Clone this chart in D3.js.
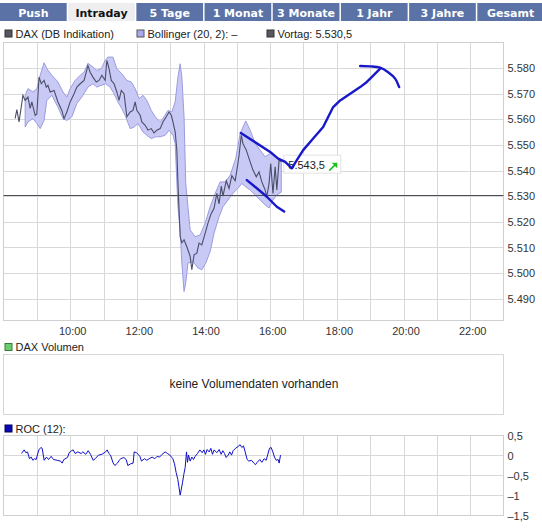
<!DOCTYPE html>
<html><head><meta charset="utf-8">
<script src="https://cdn.jsdelivr.net/npm/d3@7"></script>
<style>
body{margin:0;background:#fff}
svg{display:block}
text{font-family:"Liberation Sans",Arial,sans-serif}
</style>
</head><body>
<svg id="c" width="542" height="528"></svg>
<script>
// ---------- data ----------
const tabs = ["Push","Intraday","5 Tage","1 Monat","3 Monate","1 Jahr","3 Jahre","Gesamt"];
const activeTab = "Intraday";
const seriesName = "DAX (DB Indikation)";
const bollingerName = "Bollinger (20, 2):  \u2013";
const vortagName = "Vortag";
const vortag = 5530.5;
const volumeName = "DAX Volumen";
const volumeMessage = "keine Volumendaten vorhanden";
const rocName = "ROC (12):";

const hourTicks = [10,12,14,16,18,20,22];
const priceTicks = [5490,5500,5510,5520,5530,5540,5550,5560,5570,5580];
const rocTicks = [0.5,0,-0.5,-1,-1.5];

const priceTimes = ["08:21","08:24","08:28","08:35","08:39","08:44","08:48","08:51","08:57","09:00",
"09:04","09:08","09:13","09:17","09:20","09:24","09:31","09:38","09:45","09:49",
"09:54","10:00","10:07","10:12","10:18","10:25","10:32","10:36","10:41","10:47",
"10:52","10:57","11:03","11:06","11:10","11:14","11:19","11:24","11:28","11:32",
"11:37","11:42","11:48","11:53","11:57","12:00","12:06","12:09","12:15","12:20",
"12:26","12:31","12:36","12:42","12:47","12:53","12:58","13:02","13:05","13:09",
"13:12","13:14","13:18","13:21","13:25","13:30","13:36","13:39","13:43","13:48",
"13:52","13:57","14:03","14:08","14:14","14:19","14:24","14:28","14:32","14:35",
"14:41","14:46","14:51","14:57","15:00","15:04","15:08","15:11","15:17","15:24",
"15:29","15:35","15:40","15:45","15:51","15:54","15:58","16:01","16:05","16:09",
"16:12","16:16","16:20"];
const priceValues = [5560.4,5563.8,5559,5569.4,5567.4,5568.7,5564.3,5566.8,5561.6,5562,
5576.5,5573.9,5575.2,5572.6,5573.3,5570.7,5571.3,5566.8,5563.5,5560.3,
5562.9,5566.8,5570,5572.6,5573.9,5575.2,5581,5578.4,5576.5,5574.6,
5575.2,5577.2,5575.2,5583,5579.8,5575.2,5573.9,5570.7,5567.4,5571.3,
5570,5561,5562.9,5563.5,5566.8,5563.5,5561.6,5559,5557.7,5555.8,
5556.4,5554.7,5555.8,5556.4,5559,5561,5562.9,5561.6,5559,5555.1,
5548,5535.1,5514.2,5511.8,5513,5510.3,5506.5,5501.3,5507.1,5507.8,
5511.7,5511,5515.6,5519.5,5523.3,5525.3,5531.1,5527,5534,5530,
5536,5533,5538,5536,5540,5546,5553.8,5550.6,5548,5543.4,
5540.2,5537.6,5539.5,5535.6,5532.4,5529.8,5535,5542.8,5531.1,5541.5,
5532.4,5544,5543.5];

const upperTimes = ["08:39","08:44","08:53","09:00","09:06","09:13","09:18","09:27","09:38","09:47",
"09:54","10:00","10:09","10:18","10:25","10:32","10:41","10:48","10:56","11:03",
"11:08","11:17","11:24","11:33","11:42","11:50","11:57","12:04","12:11","12:18",
"12:26","12:33","12:42","12:49","12:56","13:03","13:09","13:14","13:18","13:21",
"13:25","13:28","13:36","13:45","13:54","14:03","14:12","14:21","14:30","14:39",
"14:48","14:58","15:06","15:16","15:24","15:33","15:42","15:51","16:00","16:09","16:20"];
const upperValues = [5569.4,5572,5570.7,5572,5577.2,5582.1,5579.8,5577.2,5574.6,5570.7,
5568.7,5572,5575.2,5577.2,5578.4,5581.9,5580.4,5579.1,5579.8,5583,
5584.3,5584.3,5579.8,5577.8,5575.2,5574.6,5572,5568.1,5569.4,5567.4,
5563.5,5561,5559,5561,5563.5,5562.9,5566.8,5576.5,5581.7,5576.5,
5561,5535,5516.8,5514.2,5514.9,5519.5,5525.9,5531.1,5535.6,5535.6,
5538.2,5544.7,5554.5,5559.4,5555.8,5550.6,5548,5545.4,5546.7,5545.4,5544];

const lowerTimes = ["08:39","08:44","08:53","09:00","09:06","09:13","09:18","09:27","09:38","09:47",
"09:54","10:03","10:12","10:21","10:32","10:41","10:48","10:56","11:04","11:12",
"11:19","11:26","11:33","11:40","11:48","11:55","12:02","12:11","12:18","12:26",
"12:34","12:42","12:51","12:58","13:05","13:09","13:14","13:18","13:21","13:25",
"13:28","13:32","13:41","13:50","13:57","14:04","14:12","14:19","14:28","14:35",
"14:44","14:53","15:02","15:09","15:16","15:24","15:33","15:42","15:51","15:58",
"16:05","16:12","16:20"];
const lowerValues = [5557,5559,5560.3,5558.4,5556.4,5559.6,5567.4,5569.4,5564.8,5560.3,
5559.6,5561,5566.2,5568.7,5572.6,5573.9,5572.6,5573.3,5573.9,5572.6,
5570,5566.8,5564.2,5561,5556.4,5557,5558.4,5555.1,5553.8,5552.5,
5553.2,5553.2,5553.8,5555.8,5553.8,5550.6,5525.9,5516.8,5503.9,5492.8,
5496.1,5503.9,5504.5,5502,5501.3,5503.9,5508.4,5515.6,5522,5525.9,
5528.5,5531.1,5533.1,5535,5533.7,5532.4,5530.5,5528.5,5526.6,5525.4,
5528.5,5530.5,5531.6];

const rocHours = [8.54,8.62,8.67,8.72,8.78,8.83,8.88,8.93,8.98,9.06,
9.12,9.16,9.22,9.29,9.35,9.43,9.50,9.61,9.71,9.76,
9.81,9.92,9.97,10.04,10.09,10.15,10.23,10.33,10.38,10.47,
10.54,10.61,10.69,10.75,10.85,10.95,11.06,11.11,11.16,11.21,
11.29,11.34,11.42,11.47,11.52,11.61,11.68,11.73,11.81,11.89,
11.92,11.99,12.04,12.09,12.14,12.23,12.30,12.37,12.46,12.54,
12.61,12.68,12.76,12.85,12.92,12.99,13.08,13.13,13.18,13.23,
13.26,13.30,13.33,13.37,13.41,13.45,13.49,13.52,13.55,13.60,
13.65,13.70,13.75,13.82,13.89,13.96,14.01,14.06,14.11,14.17,
14.22,14.27,14.32,14.40,14.47,14.53,14.58,14.63,14.68,14.74,
14.79,14.84,14.89,14.96,15.03,15.10,15.15,15.20,15.25,15.31,
15.36,15.44,15.51,15.56,15.61,15.69,15.75,15.82,15.88,15.93,
15.98,16.03,16.08,16.13,16.18,16.24,16.27,16.31];
const rocValues = [0.05,0.14,0.07,0.09,-0.08,-0.04,-0.12,-0.08,-0.1,0.14,
0.2,0.18,-0.12,-0.04,-0.1,-0.02,-0.1,-0.12,-0.14,-0.19,
-0.1,-0.05,0.07,0.12,0.14,0.05,0.09,0.05,0.09,0.03,
0.12,0.03,-0.12,-0.08,0.01,0.03,0.09,0.14,0.05,0.01,
-0.19,-0.25,-0.19,-0.12,-0.08,-0.05,-0.1,-0.25,-0.21,-0.19,
0.09,0.07,0.03,-0.02,-0.14,-0.08,-0.12,-0.08,-0.04,-0.08,
-0.02,-0.04,0.03,0.09,0.05,0.01,-0.08,-0.21,-0.43,-0.6,
-0.77,-0.99,-0.86,-0.68,-0.47,-0.3,0.09,-0.17,0.01,-0.14,
-0.04,-0.1,-0.02,0.05,0.14,0.07,0.14,0.03,0.15,0.09,
0.18,0.03,0.14,0.07,0.15,0.03,0.12,0.05,-0.05,0.01,
0.09,0.01,0.12,0.18,0.22,0.27,0.2,0.24,0.09,-0.1,
-0.14,-0.12,-0.19,-0.23,-0.17,-0.1,-0.17,-0.08,-0.12,0.03,
0.18,0.2,0.09,-0.04,-0.12,-0.1,-0.19,0.01];

// hand-drawn annotation strokes (hours, index points)
const strokeAHours = [15.12,16.0,16.24,16.45,16.65,16.80,16.99,17.29,17.59,17.89,18.10,18.40,18.70,18.90,19.00,19.30];
const strokeAValues = [5554.7,5547.3,5544.7,5543.4,5540.9,5544.1,5548.0,5552.5,5557.0,5564.8,5567.4,5570.0,5572.6,5574.6,5575.9,5579.8];
const strokeBHours = [18.70,19.00,19.30,19.54,19.75,19.87];
const strokeBValues = [5580.8,5580.7,5580.2,5578.4,5575.9,5572.6];
const strokeCHours = [15.30,15.60,15.90,16.20,16.42];
const strokeCValues = [5536.3,5533.1,5529.8,5525.9,5524.0];

// ---------- drawing ----------
const svg = d3.select("#c");
const de = d3.formatLocale({decimal:",", thousands:".", grouping:[3], currency:["","\u00a0\u20ac"], minus:"\u2013"});
const fmtIdx = de.format(",.0f"), fmtPrice = de.format(",.1f"), fmtRoc = de.format(".1~f");
const hm = s => +s.slice(0,2) + (+s.slice(3))/60;
const zip = (a,b) => a.map((v,i)=>[v,b[i]]).filter(d=>d[1]!==undefined);

const X0 = 3.5, X1 = 503.5;
const x = d3.scaleLinear().domain([8,23]).range([X0,X1]);
const y = d3.scaleLinear().domain([5481.5,5590]).range([320.5,42.5]);
const yR = d3.scaleLinear().domain([-1.5,0.5]).range([515.5,435.5]);
const allHours = d3.range(9,23);
const gridCol = "#d8d8d8", borderCol = "#cfcfcf";

// tabs
const tabX = d3.scaleBand().domain(tabs).range([0,544]).paddingInner(0.022).paddingOuter(0);
const tg = svg.append("g");
tabs.forEach(t=>{
  const act = t===activeTab;
  tg.append("rect").attr("x",tabX(t)).attr("y",3).attr("width",tabX.bandwidth()).attr("height",18)
    .attr("fill", act ? "#eeeeee" : "#5a72a6");
  tg.append("text").attr("x",tabX(t)+tabX.bandwidth()/2).attr("y",16.5).attr("text-anchor","middle")
    .style("font-family","'DejaVu Sans',Verdana,sans-serif").style("font-weight","bold").style("font-size","11px")
    .attr("fill", act ? "#111" : "#fff").text(t);
});

function legendItem(px, py, fill, stroke, label){
  svg.append("rect").attr("x",px+0.5).attr("y",py-7.5).attr("width",7).attr("height",7)
    .attr("fill",fill).attr("stroke",stroke).attr("stroke-width",1);
  svg.append("text").attr("x",px+11).attr("y",py).attr("font-size",11).attr("fill","#222").text(label);
}
legendItem(4.5, 37.5, "#55585f", "#333", seriesName);
legendItem(136.5, 37.5, "#aaaaf0", "#555", bollingerName);
legendItem(266.5, 37.5, "#55585f", "#333", vortagName + ": " + fmtPrice(vortag));

// main grid
const mg = svg.append("g");
mg.selectAll(".vg").data(allHours).join("line")
  .attr("x1",d=>Math.round(x(d))+0.5).attr("x2",d=>Math.round(x(d))+0.5).attr("y1",y.range()[1]).attr("y2",y.range()[0])
  .attr("stroke",gridCol);
mg.selectAll(".hg").data(priceTicks).join("line")
  .attr("x1",X0).attr("x2",X1).attr("y1",d=>Math.round(y(d))+0.5).attr("y2",d=>Math.round(y(d))+0.5)
  .attr("stroke",gridCol);
mg.append("rect").attr("x",X0).attr("y",y.range()[1]).attr("width",X1-X0).attr("height",y.range()[0]-y.range()[1])
  .attr("fill","none").attr("stroke",borderCol);

// bollinger band
const upper = zip(upperTimes.map(hm), upperValues);
const lower = zip(lowerTimes.map(hm), lowerValues);
const bandPts = upper.concat(lower.slice().reverse());
svg.append("path").attr("d", d3.line().x(d=>x(d[0])).y(d=>y(d[1]))(bandPts)+"Z")
  .attr("fill","#c9c9f5").attr("stroke","#9b9be0").attr("stroke-width",1);

// vortag
svg.append("line").attr("x1",X0).attr("x2",X1).attr("y1",Math.round(y(vortag))+0.5).attr("y2",Math.round(y(vortag))+0.5)
  .attr("stroke","#4d4d55").attr("stroke-width",1);

// price
const price = zip(priceTimes.map(hm), priceValues);
svg.append("path").attr("d", d3.line().x(d=>x(d[0])).y(d=>y(d[1]))(price))
  .attr("fill","none").attr("stroke","#4a4e68").attr("stroke-width",1.1);

// last price label
const last = price[price.length-1];
const lx = x(last[0])+2, ly = y(last[1]);
svg.append("rect").attr("x",lx+0.5).attr("y",ly-6.5).attr("width",57).attr("height",18)
  .attr("fill","#fff").attr("fill-opacity",0.9).attr("stroke","#e2e2e2");
svg.append("text").attr("x",lx+5).attr("y",ly+7).attr("font-size",11).attr("fill","#222").text(fmtPrice(last[1]));
svg.append("line").attr("x1",lx+46).attr("y1",ly+9).attr("x2",lx+52).attr("y2",ly+3)
  .attr("stroke","#19c419").attr("stroke-width",1.6);
svg.append("path").attr("d",`M${lx+54},${ly+1}L${lx+54},${ly+6.5}L${lx+48.5},${ly+1}Z`).attr("fill","#19c419");

// annotations (drawn on top)
const annLinear = d3.line().x(d=>x(d[0])).y(d=>y(d[1]));
const annCurve = d3.line().x(d=>x(d[0])).y(d=>y(d[1])).curve(d3.curveCatmullRom);
[[strokeAHours,strokeAValues,annLinear],[strokeBHours,strokeBValues,annCurve],[strokeCHours,strokeCValues,annLinear]].forEach(([h,v,gen])=>{
  svg.append("path").attr("d", gen(zip(h,v))).attr("fill","none")
    .attr("stroke","#1818c8").attr("stroke-width",2.4).attr("stroke-linecap","round").attr("stroke-linejoin","round");
});

// axes main
const ay = svg.append("g").attr("transform",`translate(${X1},0)`)
  .call(d3.axisRight(y).tickValues(priceTicks).tickSize(0).tickPadding(4).tickFormat(fmtIdx));
ay.select(".domain").remove();
ay.selectAll("text").attr("font-size",11).attr("fill","#333").style("font-family","'Liberation Sans',Arial,sans-serif");
const ax = svg.append("g").attr("transform",`translate(0,${y.range()[0]})`)
  .call(d3.axisBottom(x).tickValues(hourTicks).tickSize(0).tickPadding(7).tickFormat(d=>d3.format("02")(d)+":00"));
ax.select(".domain").remove();
ax.selectAll("text").attr("font-size",11).attr("fill","#333").attr("dx",2).style("font-family","'Liberation Sans',Arial,sans-serif");

// volume panel
legendItem(4.5, 351, "#6ccb6c", "#3a7a3a", volumeName);
svg.append("rect").attr("x",X0).attr("y",354.5).attr("width",X1-X0).attr("height",60)
  .attr("fill","none").attr("stroke","#d6d6d6");
svg.append("text").attr("x",(X0+X1)/2+0.5).attr("y",388).attr("text-anchor","middle")
  .attr("font-size",12).attr("fill","#222").text(volumeMessage);

// ROC panel
legendItem(4.5, 432.5, "#0a0ab4", "#00005a", rocName);
const rg = svg.append("g");
rg.selectAll(".rv").data(allHours).join("line")
  .attr("x1",d=>Math.round(x(d))+0.5).attr("x2",d=>Math.round(x(d))+0.5).attr("y1",yR.range()[1]).attr("y2",yR.range()[0])
  .attr("stroke",gridCol);
rg.selectAll(".rh").data(rocTicks.slice(1,-1)).join("line")
  .attr("x1",X0).attr("x2",X1).attr("y1",d=>yR(d)).attr("y2",d=>yR(d)).attr("stroke",gridCol);
rg.append("rect").attr("x",X0).attr("y",yR.range()[1]).attr("width",X1-X0).attr("height",yR.range()[0]-yR.range()[1])
  .attr("fill","none").attr("stroke",borderCol);
svg.append("path").attr("d", d3.line().x(d=>x(d[0])).y(d=>yR(d[1]))(zip(rocHours,rocValues)))
  .attr("fill","none").attr("stroke","#1010c8").attr("stroke-width",1);
const ar = svg.append("g").attr("transform",`translate(${X1},0)`)
  .call(d3.axisRight(yR).tickValues(rocTicks).tickSize(0).tickPadding(4).tickFormat(fmtRoc));
ar.select(".domain").remove();
ar.selectAll("text").attr("font-size",11).attr("fill","#333").style("font-family","'Liberation Sans',Arial,sans-serif");
</script>
</body></html>
